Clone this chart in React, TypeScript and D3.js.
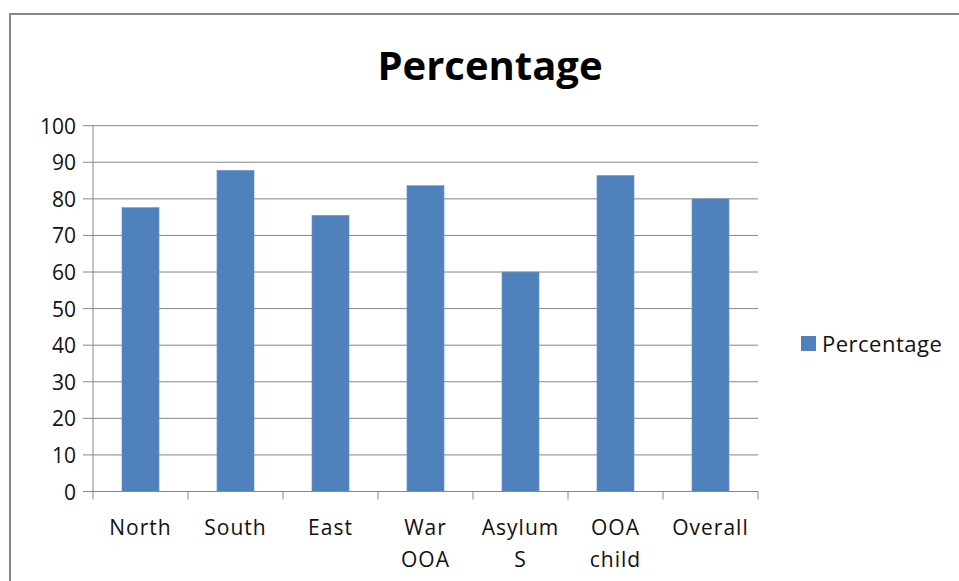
import React from "react";
import * as d3 from "d3";

const categories: string[][] = [
  ["North"],
  ["South"],
  ["East"],
  ["War", "OOA"],
  ["Asylum", "S"],
  ["OOA", "child"],
  ["Overall"],
];
const percentages: number[] = [77.6, 87.8, 75.5, 83.6, 60, 86.4, 80];
const yTicks: number[] = [0, 10, 20, 30, 40, 50, 60, 70, 80, 90, 100];
const seriesName = "Percentage";

const W = 959;
const H = 581;
const FONT = "'Open Sans', 'Liberation Sans', sans-serif";

export default function App() {
  const plot = { left: 93, right: 758, top: 125.7, bottom: 491.5 };
  const keys = categories.map((c) => c.join(" "));
  const x = d3.scaleBand<string>().domain(keys).range([plot.left, plot.right]).paddingInner(0.61).paddingOuter(0.305);
  const xb = d3.scaleBand<string>().domain(keys).range([plot.left, plot.right]);
  const y = d3.scaleLinear().domain([0, 100]).range([plot.bottom, plot.top]);

  return (
    <svg
      width={W}
      height={H}
      style={{ position: "absolute", left: 0, top: 0, background: "#fff" }}
    >
      <rect x={10} y={14} width={W + 20} height={H + 20} fill="#fff" stroke="#888" strokeWidth={2} />
      <text x={490} y={80} textAnchor="middle" fontFamily={FONT} fontWeight="bold" fontSize={40} fill="#000">
        {seriesName}
      </text>
      {/* gridlines and y ticks */}
      {yTicks.map((t) => (
        <g key={t}>
          <line x1={83} x2={plot.right} y1={y(t)} y2={y(t)} stroke="#868686" strokeWidth={1} />
          <text x={76} y={y(t) + 8} textAnchor="end" fontFamily={FONT} fontSize={21} fill="#111">
            {t}
          </text>
        </g>
      ))}
      {/* y axis */}
      <line x1={plot.left} x2={plot.left} y1={plot.top} y2={plot.bottom} stroke="#868686" strokeWidth={1} />
      {/* category ticks */}
      {keys.map((k) => (
        <line key={"t" + k} x1={xb(k)!} x2={xb(k)!} y1={plot.bottom} y2={plot.bottom + 8} stroke="#868686" />
      ))}
      <line x1={plot.right} x2={plot.right} y1={plot.bottom} y2={plot.bottom + 8} stroke="#868686" />
      {/* bars */}
      {percentages.map((v, i) => (
        <rect
          key={keys[i]}
          x={x(keys[i])!}
          y={y(v)}
          width={x.bandwidth()}
          height={y(0) - y(v)}
          fill="#4F81BD"
          stroke="#6F97C9"
          strokeWidth={0.6}
        />
      ))}
      {/* category labels */}
      {categories.map((lines, i) => (
        <text
          key={"l" + keys[i]}
          x={xb(keys[i])! + xb.bandwidth() / 2}
          textAnchor="middle"
          fontFamily={FONT}
          fontSize={21}
          letterSpacing={1}
          fill="#111"
        >
          {lines.map((ln, j) => (
            <tspan key={j} x={xb(keys[i])! + xb.bandwidth() / 2} y={535 + j * 31.5}>
              {ln}
            </tspan>
          ))}
        </text>
      ))}
      {/* legend */}
      <rect x={801} y={336} width={15} height={15} fill="#4F81BD" />
      <text x={822} y={351.5} fontFamily={FONT} fontSize={22} letterSpacing={0.5} fill="#111">
        {seriesName}
      </text>
    </svg>
  );
}
